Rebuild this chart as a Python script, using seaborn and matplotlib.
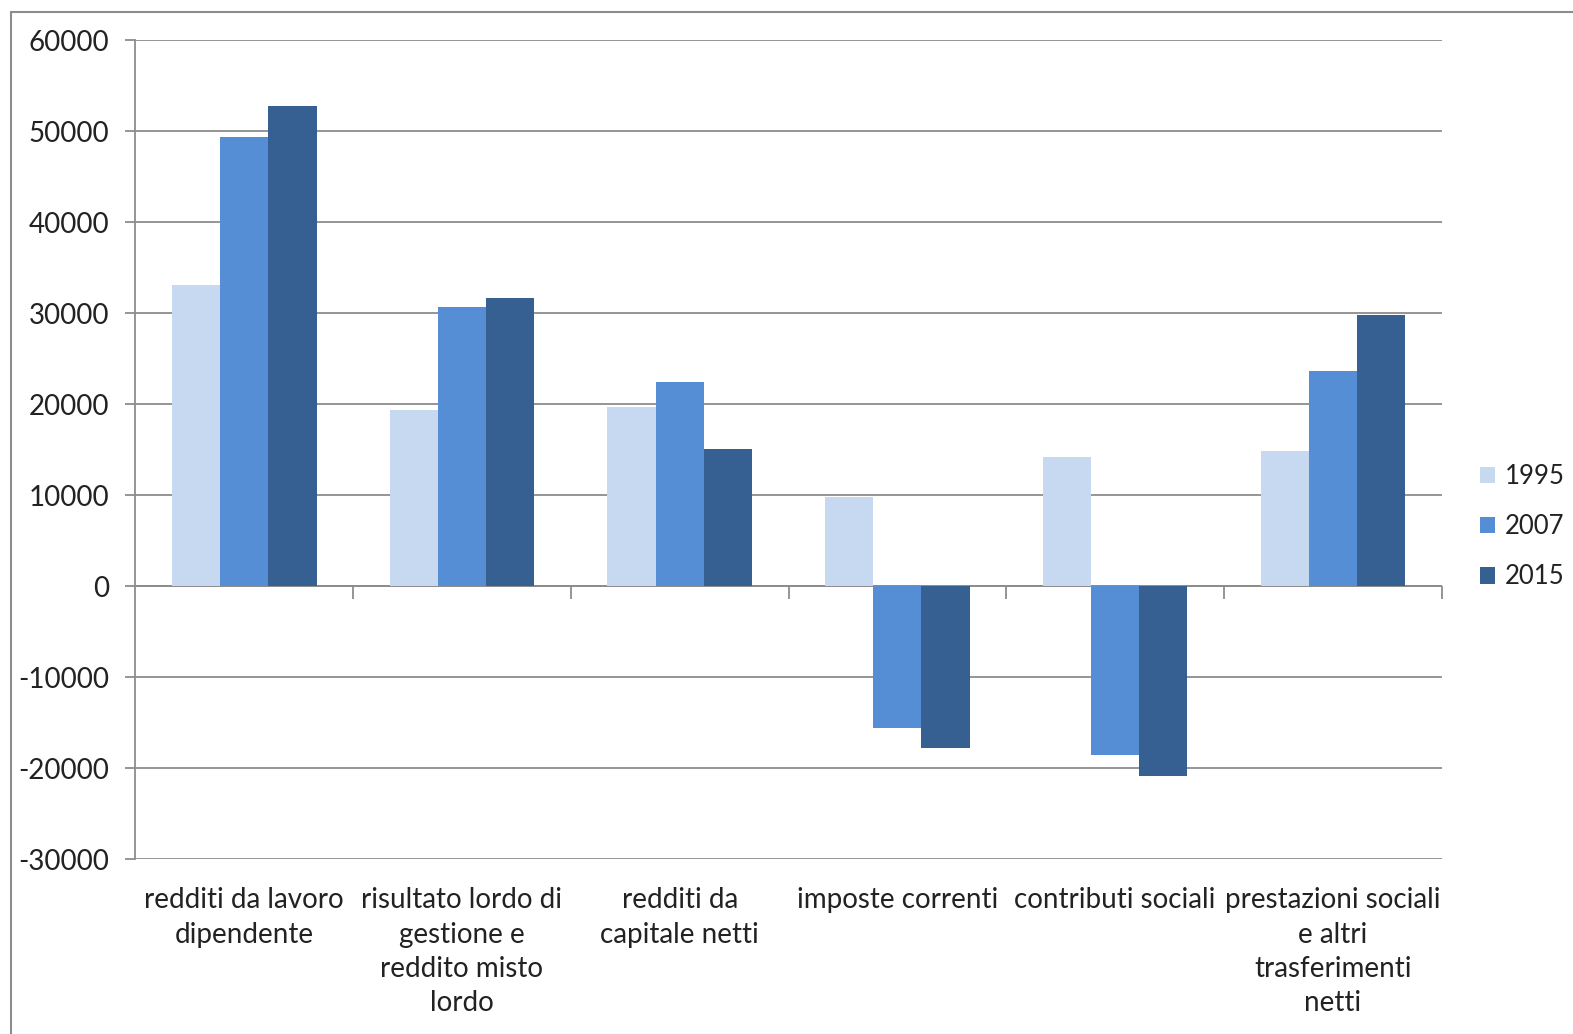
import matplotlib
matplotlib.use("Agg")
import matplotlib.pyplot as plt
from matplotlib.patches import Rectangle
import pandas as pd
import seaborn as sns

categories = [
    "redditi da lavoro\ndipendente",
    "risultato lordo di\ngestione e\nreddito misto\nlordo",
    "redditi da\ncapitale netti",
    "imposte correnti",
    "contributi sociali",
    "prestazioni sociali\ne altri\ntrasferimenti\nnetti",
]
years = ["1995", "2007", "2015"]
v1995 = [33100, 19400, 19700, 9800, 14200, 14900]
v2007 = [49400, 30700, 22500, -15600, -18500, 23700]
v2015 = [52800, 31700, 15100, -17800, -20800, 29800]
colors = ["#C6D9F1", "#558ED5", "#376092"]

rows = []
for year, vals in zip(years, [v1995, v2007, v2015]):
    for cat, v in zip(categories, vals):
        rows.append({"cat": cat, "year": year, "val": v})
df = pd.DataFrame(rows)

sns.set_theme(style="white")
plt.rcParams["font.family"] = ["Lato", "DejaVu Sans"]
fs = 20

fig = plt.figure(figsize=(15.73, 10.34), dpi=100)
ax = fig.add_axes([0.0861, 0.1688, 0.8304, 0.7924])

sns.barplot(data=df, x="cat", y="val", hue="year", palette=colors,
            width=0.664, saturation=1, ax=ax, edgecolor="none", linewidth=0)

ax.set_ylim(-30000, 60000)
ax.set_xlim(-0.5, 5.5)
ax.set_yticks(range(-30000, 60001, 10000))
ax.set_yticklabels([str(t) for t in range(-30000, 60001, 10000)], fontsize=fs, color="#222222")
ax.yaxis.grid(True, color="#8c8c8c", linewidth=1.3)
ax.set_axisbelow(True)
ax.axhline(0, color="#8c8c8c", linewidth=1.3, zorder=0.5)

for s in ["top", "right", "bottom"]:
    ax.spines[s].set_visible(False)
ax.spines["left"].set_color("#8c8c8c")
ax.spines["left"].set_linewidth(1.3)
ax.tick_params(axis="y", which="major", left=True, length=7, width=1.3,
               color="#8c8c8c", pad=12)
ax.tick_params(axis="x", length=0, pad=20)
ax.set_xticks(range(len(categories)))
ax.set_xticklabels(categories, fontsize=fs, color="#222222", linespacing=1.4)
ax.set_xlabel("")
ax.set_ylabel("")

# x axis ticks at zero line between categories
sec = ax.secondary_xaxis(1 / 3)
sec.set_xticks([0.5, 1.5, 2.5, 3.5, 4.5, 5.5])
sec.set_xticklabels([])
sec.tick_params(direction="out", length=9, width=1.3, color="#8c8c8c")
sec.spines["bottom"].set_visible(False)
sec.spines["top"].set_visible(False)

leg = ax.legend(loc="center left", bbox_to_anchor=(1.029, 0.406), frameon=False,
                fontsize=18.5, handlelength=0.6, handleheight=0.6,
                handletextpad=0.4, labelspacing=0.98, borderpad=0,
                borderaxespad=0)
for t in leg.get_texts():
    t.set_color("#222222")

fig.patches.append(Rectangle((11 / 1568, -0.05), 1.1, 1.05 - 12 / 1031,
                             transform=fig.transFigure, fill=False,
                             edgecolor="#8c8c8c", linewidth=1.5))

fig.savefig("out.png", dpi=100, facecolor="white")
